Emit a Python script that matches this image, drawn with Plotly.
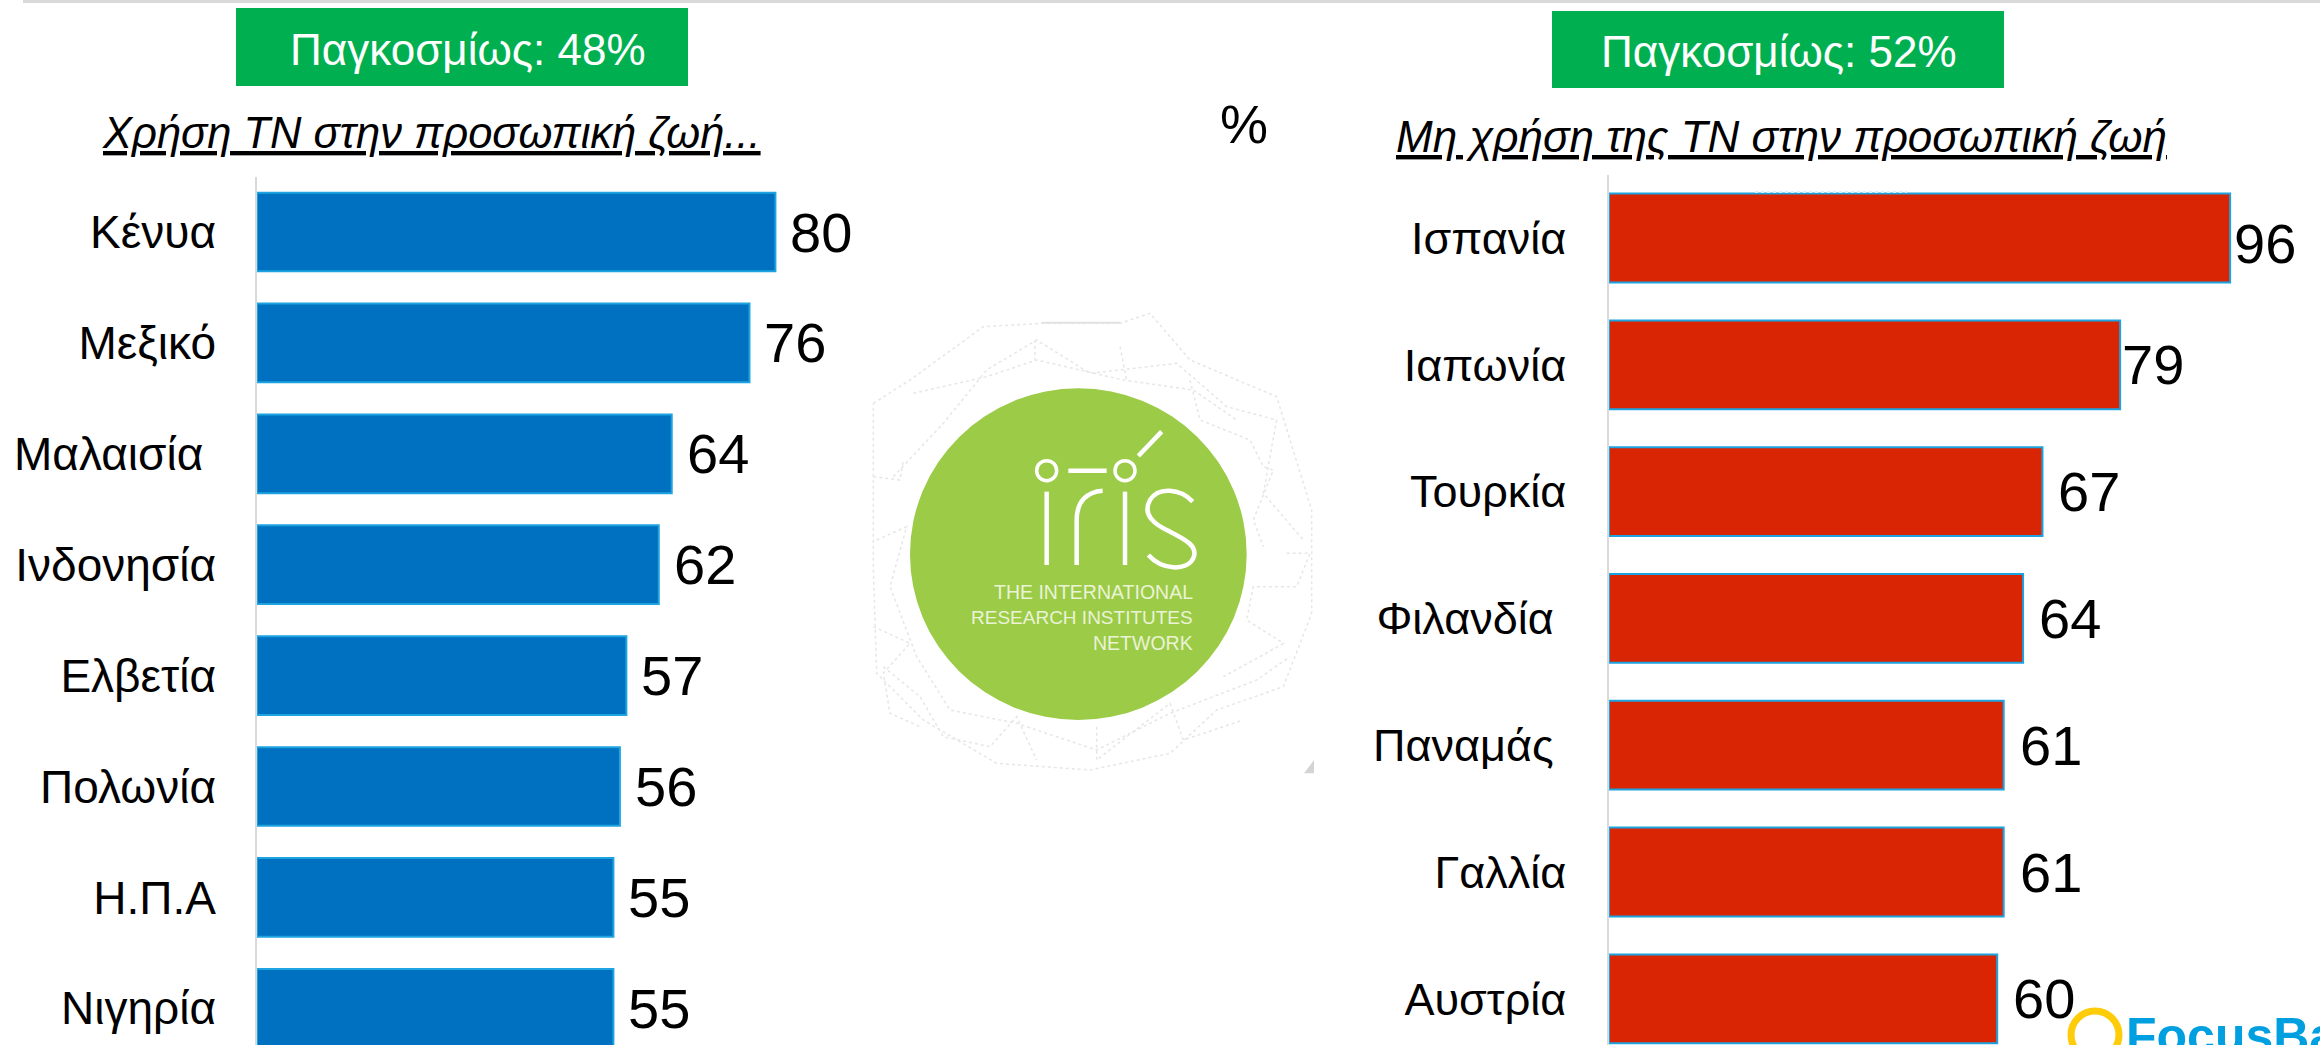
import plotly.graph_objects as go

W, H = 2320, 1045
FONT = "Liberation Sans"

left_countries = ["Κένυα", "Μεξικό", "Μαλαισία\u00a0", "Ινδονησία", "Ελβετία", "Πολωνία", "Η.Π.Α", "Νιγηρία"]
left_values = [80, 76, 64, 62, 57, 56, 55, 55]
right_countries = ["Ισπανία", "Ιαπωνία", "Τουρκία", "Φιλανδία\u00a0", "Παναμάς\u00a0", "Γαλλία", "Αυστρία"]
right_values = [96, 79, 67, 64, 61, 61, 60]

left_badge = "Παγκοσμίως: 48%"
right_badge = "Παγκοσμίως: 52%"
left_title = "Χρήση ΤΝ στην προσωπική ζωή..."
right_title = "Μη χρήση της ΤΝ στην προσωπική ζωή"

BLUE, RED, EDGE = "#0070C0", "#DA2504", "#1CA3E0"
GREEN, LEAF = "#00B050", "#9CCB47"


def px(x): return x / W
def py(y): return 1 - y / H


def rect(x0, y0, x1, y1, color, **kw):
    return dict(type="rect", xref="paper", yref="paper", x0=px(x0), x1=px(x1), y0=py(y0), y1=py(y1),
                fillcolor=color, line=dict(width=0), **kw)


def text(x, y, s, size, color="black", anchor="center", vanchor="middle", bold=False):
    return dict(xref="paper", yref="paper", x=px(x), y=py(y), text=f"<b>{s}</b>" if bold else s,
                showarrow=False, xanchor=anchor, yanchor=vanchor,
                font=dict(family=FONT, size=size, color=color))


def zx(v): return 850 + v / 3
def zy(v): return 280 + v / 3
def zp(a, b): return f"{px(zx(a))},{py(zy(b))}"


def zline(x0, y0, x1, y1, color="white", width=4.5, dash="solid"):
    return dict(type="line", xref="paper", yref="paper", x0=px(zx(x0)), x1=px(zx(x1)), y0=py(zy(y0)), y1=py(zy(y1)),
                line=dict(color=color, width=width, dash=dash), layer="above")


def zcircle(x0, y0, x1, y1, fill, line_color=None, width=0):
    return dict(type="circle", xref="paper", yref="paper", x0=px(zx(x0)), x1=px(zx(x1)), y0=py(zy(y1)), y1=py(zy(y0)),
                fillcolor=fill, line=dict(color=line_color or fill, width=width), layer="above")


def zpath(points, color="white", width=4.5, fill="rgba(0,0,0,0)", dash="solid"):
    d = "M " + " L ".join(zp(a, b) for a, b in points)
    return dict(type="path", xref="paper", yref="paper", path=d, fillcolor=fill,
                line=dict(color=color, width=width, dash=dash), layer="above")


def zcurve(d, color="white", width=4.5):
    return dict(type="path", xref="paper", yref="paper", path=d, fillcolor="rgba(0,0,0,0)",
                line=dict(color=color, width=width), layer="above")


fig = go.Figure()
fig.add_trace(go.Bar(x=left_values, y=left_countries, orientation="h", width=0.71, xaxis="x", yaxis="y",
                     marker=dict(color=BLUE, line=dict(color=EDGE, width=2)), showlegend=False))
fig.add_trace(go.Bar(x=right_values, y=right_countries, orientation="h", width=0.70, xaxis="x2", yaxis="y2",
                     marker=dict(color=RED, line=dict(color=EDGE, width=2)), showlegend=False))

ann = []
for c, v in zip(left_countries, left_values):
    ann.append(dict(xref="x", yref="y", x=v, y=c, text=str(v), showarrow=False, xanchor="left", xshift=13,
                    font=dict(family=FONT, size=56, color="black")))
right_gaps = [2, 0, 14, 14, 14, 14, 14]
right_yshift = [-6, 0, 0, 0, 0, 0, 0]
for c, v, g, s in zip(right_countries, right_values, right_gaps, right_yshift):
    ann.append(dict(xref="x2", yref="y2", x=v, y=c, text=str(v), showarrow=False, xanchor="left", xshift=g, yshift=s,
                    font=dict(family=FONT, size=56, color="black")))

ann += [
    text(468, 49, left_badge, 44, "white"),
    text(1779, 52, right_badge, 44, "white"),
    text(431, 133, f"<i><u>{left_title}</u></i>", 43.5),
    text(1781, 137, f"<i><u>{right_title}</u></i>", 44),
    text(1244, 124, "%", 54),
    text(zx(1036), zy(935), "THE INTERNATIONAL", 19.5, "#EAF3D6", anchor="right"),
    text(zx(1036), zy(1012), "RESEARCH INSTITUTES", 19, "#EAF3D6", anchor="right"),
    text(zx(1036), zy(1088), "NETWORK", 19.5, "#EAF3D6", anchor="right"),
    text(2124, 1006, "FocusBari", 50, "#009FDF", anchor="left", vanchor="top", bold=True),
]

shapes = [
    rect(23, 0, W, 3, "#D9D9D9"),
    rect(236, 8, 688, 86, GREEN),
    rect(1552, 11, 2004, 88, GREEN),
]
# faint network around the logo
GREY = "#E6E6E6"
net = [
    [(70, 370), (180, 300), (400, 140), (575, 130), (810, 130), (900, 100), (1020, 240), (1280, 350), (1385, 690),
     (1385, 1000), (1300, 1220), (1100, 1290), (960, 1420), (720, 1470), (440, 1450), (220, 1320), (80, 1180), (70, 860), (70, 370)],
    [(130, 590), (280, 430), (410, 270), (560, 180), (720, 280), (980, 250), (1130, 380), (1280, 420), (1240, 640), (1360, 780)],
    [(80, 780), (170, 740), (120, 920), (200, 1130), (300, 1290), (500, 1330), (740, 1410), (960, 1300), (1220, 1200), (1320, 1130)],
    [(190, 340), (410, 290), (560, 240), (820, 300), (1030, 330), (1160, 420)],
    [(70, 590), (150, 600), (160, 540)],
    [(555, 180), (555, 240)],
    [(810, 200), (830, 300)],
    [(1020, 300), (1050, 420), (1200, 480), (1240, 560), (1270, 570), (1210, 720), (1240, 800)],
    [(1310, 820), (1380, 820), (1340, 920), (1210, 920), (1190, 1020), (1300, 1090), (1230, 1130), (1120, 1190)],
    [(100, 1160), (210, 1250), (280, 1370), (420, 1400), (500, 1310), (560, 1440)],
    [(740, 1340), (740, 1440), (960, 1270), (1000, 1380), (1180, 1320)],
    [(70, 1040), (180, 1090), (100, 1180), (120, 1300), (210, 1340)],
]
for p in net:
    shapes.append(zpath(p, GREY, 1.5, dash="dot"))
shapes.append(zline(575, 128, 810, 128, "#E2E2E2", 2))
shapes.append(zpath([(1362, 1480), (1392, 1480), (1392, 1440), (1362, 1480)], "#D4D4D4", 0, "#D4D4D4"))
# iris logo
s_path = (f"M {zp(1028, 665)} C {zp(990, 625)} {zp(925, 620)} {zp(900, 660)} "
          f"C {zp(875, 705)} {zp(915, 735)} {zp(960, 755)} "
          f"C {zp(1010, 780)} {zp(1045, 800)} {zp(1030, 835)} "
          f"C {zp(1010, 875)} {zp(935, 870)} {zp(895, 825)}")
r_path = f"M {zp(680, 855)} L {zp(680, 720)} C {zp(680, 665)} {zp(710, 635)} {zp(758, 632)}"
shapes += [
    zcircle(180, 325, 1190, 1320, LEAF),
    zcircle(560, 542, 620, 602, "rgba(0,0,0,0)", "white", 3.5),
    zcircle(795, 542, 855, 602, "rgba(0,0,0,0)", "white", 3.5),
    zline(655, 572, 770, 572),
    zline(865, 528, 935, 455),
    zline(590, 635, 590, 855),
    zline(825, 635, 825, 855),
    zcurve(r_path),
    zcurve(s_path),
    # FocusBari ring
    dict(type="circle", xref="paper", yref="paper", x0=px(2071), x1=px(2119), y0=py(1059), y1=py(1011),
         fillcolor="rgba(0,0,0,0)", line=dict(color="#FFCC0A", width=7)),
    dict(type="line", xref="paper", yref="paper", x0=px(1755), x1=px(1907), y0=py(192), y1=py(192),
         line=dict(color="#DDEFF8", width=2, dash="dot"), layer="above"),
]

left_scale = 6.48
right_scale = 6.47
L0, L1, R0, R1 = 257, 900, 1609, 2300
C0 = 232
fig.update_layout(
    width=W, height=H, margin=dict(l=0, r=0, t=0, b=0), paper_bgcolor="white", plot_bgcolor="rgba(0,0,0,0)",
    bargap=0.3, showlegend=False, annotations=ann, shapes=shapes,
    xaxis=dict(domain=[px(L0), px(L1)], range=[0, (L1 - L0) / left_scale], visible=False, anchor="y"),
    xaxis2=dict(domain=[px(R0), px(R1)], range=[0, (R1 - R0) / right_scale], visible=False, anchor="y2"),
    yaxis=dict(domain=[0, py(177)], range=[(H - C0) / 110.9, (177 - C0) / 110.9], type="category",
               categoryorder="array", categoryarray=left_countries, anchor="x",
               showline=True, linecolor="#D9D9D9", linewidth=1.5, showgrid=False, ticks="", ticklabelstandoff=30,
               tickfont=dict(family=FONT, size=46, color="black")),
    yaxis2=dict(domain=[0, py(175)], range=[(H - 238) / 126.8, (175 - 238) / 126.8], type="category",
                categoryorder="array", categoryarray=right_countries, anchor="x2",
                showline=True, linecolor="#D9D9D9", linewidth=1.5, showgrid=False, ticks="", ticklabelstandoff=32,
                tickfont=dict(family=FONT, size=45, color="black")),
)
fig.write_html("out.html", config=dict(displayModeBar=False),
               post_script="document.body.style.margin='0';document.body.style.overflow='hidden';")
